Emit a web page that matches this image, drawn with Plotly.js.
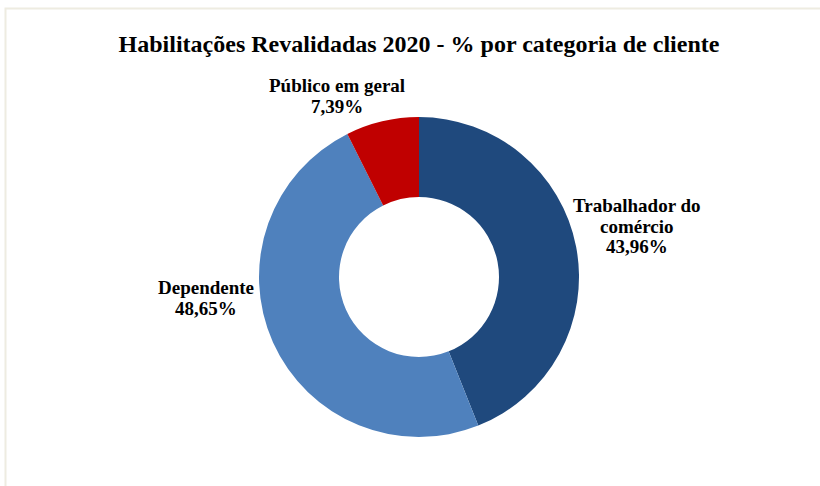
<!DOCTYPE html>
<html>
<head>
<meta charset="utf-8">
<script src="https://cdn.plot.ly/plotly-3.0.1.min.js"></script>
<style>
html,body{margin:0;padding:0;background:#fff;}
#chart{width:820px;height:486px;}
</style>
</head>
<body>
<div id="chart"></div>
<script>
const categories = ["Trabalhador do comércio", "Dependente", "Público em geral"];
const labelLines = [["Trabalhador do", "comércio"], ["Dependente"], ["Público em geral"]];
const values = [43.96, 48.65, 7.39];
const colors = ["#1F497D", "#4F81BD", "#C00000"];
const chartTitle = "Habilitações Revalidadas 2020 - % por categoria de cliente";

function fmt(v){ return v.toFixed(2).replace(".", ",") + "%"; }

const serif = "Liberation Serif, Times New Roman, serif";

const trace = {
  type: "pie",
  labels: categories,
  values: values,
  hole: 0.5,
  sort: false,
  direction: "clockwise",
  rotation: 0,
  textinfo: "none",
  hoverinfo: "label+value",
  marker: {colors: colors, line: {width: 0}},
  domain: {x: [259/820, 579/820], y: [49/486, 369/486]},
  showlegend: false
};

// label block positions (px): centre x, first-line centre y
const labelPos = [
  {x: 637, y: 205},
  {x: 206, y: 287},
  {x: 337, y: 85}
];
const lineGap = 21;

const annotations = [];
categories.forEach((c, i) => {
  const lines = labelLines[i].concat([fmt(values[i])]);
  lines.forEach((t, k) => {
    annotations.push({
      xref: "paper", yref: "paper",
      x: labelPos[i].x / 820, y: 1 - (labelPos[i].y + k * lineGap) / 486,
      xanchor: "center", yanchor: "middle",
      showarrow: false,
      text: "<b>" + t + "</b>",
      font: {family: serif, size: 19, color: "#000"}
    });
  });
});

const layout = {
  width: 820, height: 486,
  margin: {l: 0, r: 0, t: 0, b: 0},
  paper_bgcolor: "#ffffff",
  title: {
    text: "<b>" + chartTitle + "</b>",
    x: 419/820, xanchor: "center",
    y: 1 - 44/486, yanchor: "middle",
    font: {family: serif, size: 24, color: "#000"}
  },
  annotations: annotations,
  shapes: [{
    type: "rect", xref: "paper", yref: "paper",
    x0: 5.5/820, x1: 1.05, y0: -0.05, y1: 1 - 8.5/486,
    line: {color: "#EEECE1", width: 2}, fillcolor: "rgba(0,0,0,0)"
  }]
};

Plotly.newPlot("chart", [trace], layout, {displayModeBar: false, staticPlot: true});
</script>
</body>
</html>
